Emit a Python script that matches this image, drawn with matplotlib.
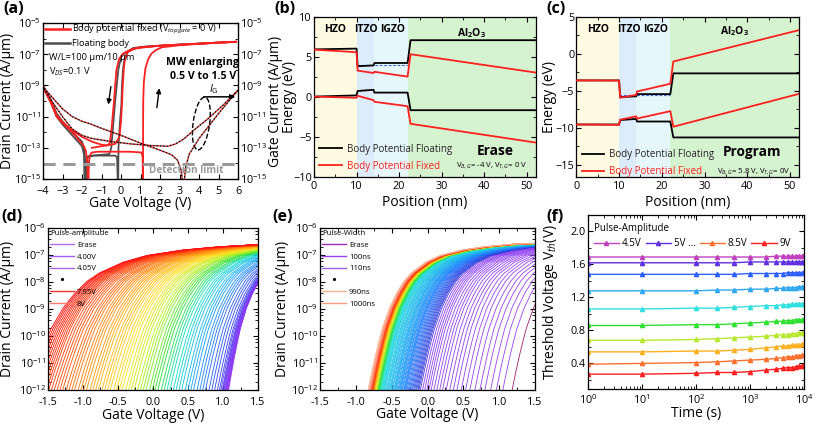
import numpy as np
import matplotlib.pyplot as plt
from matplotlib.lines import Line2D
from matplotlib.patches import Ellipse, Rectangle
from matplotlib.colors import LinearSegmentedColormap
from matplotlib.ticker import FixedLocator, NullFormatter, FormatStrFormatter, LogLocator

plt.rcParams['font.family'] = ['Open Sans', 'DejaVu Sans']
plt.rcParams['mathtext.fontset'] = 'custom'
plt.rcParams['mathtext.rm'] = 'Open Sans'
plt.rcParams['mathtext.it'] = 'Open Sans:italic'
plt.rcParams['mathtext.bf'] = 'Open Sans:bold'

RED = '#ff2020'
GRAY = '#4d4d4d'
TICK_FS = 7.8
LAB_FS = 10

# ---------------- (a) transfer + gate current, log10 of |I| ----------------
fix_fwd_v = [-4, -3.6, -3.3, -3.0, -2.5, -2.0, -1.5, -1.0, -0.7, -0.58, -0.5, -0.43, -0.37,
             -0.3, -0.24, -0.1, 0.1, 0.5, 0.95, 2.0, 3.0, 4.0, 5.0, 5.9]
fix_fwd_log = [-9.1, -10.0, -10.9, -11.35, -11.9, -12.3, -12.6, -12.8, -12.85, -12.7, -12.0,
               -11.0, -10.16, -9.0, -8.03, -7.3, -6.96, -6.7, -6.55, -6.45, -6.38, -6.32,
               -6.25, -6.2]
fix2_v = [5.9, 4.0, 2.0, 1.0, 0.7, 0.35, 0.2, 0.14, 0.09, 0.05, 0.0, -0.08, -0.3, -1.0, -1.5]
fix2_log = [-6.2, -6.32, -6.45, -6.58, -6.64, -6.85, -7.3, -8.0, -9.0, -10.2, -11.3, -12.3,
            -12.75, -12.9, -13.0]
fix_rev_v = [5.9, 5.0, 4.0, 3.0, 2.1, 1.8, 1.56, 1.4, 1.25, 1.17, 1.14, 1.13, 1.125,
             1.11, 1.05, 0.5, -0.5, -1.2, -1.5, -1.6, -1.65, -1.68, -1.72, -1.8, -1.9, -2.1,
             -2.5, -3.0, -3.3, -3.6, -4.0]
fix_rev_log = [-6.2, -6.26, -6.33, -6.42, -6.55, -6.72, -6.96, -7.3, -7.9, -8.8, -10.0,
               -12.0, -16, -13.6, -13.3, -13.25, -13.25, -13.25, -13.3, -13.5, -14.0, -16,
               -14.0, -13.2, -12.9, -12.6, -12.0, -11.4, -11.0, -10.1, -9.1]
flt_fwd_v = [-4, -3.6, -3.3, -3.0, -2.5, -2.0, -1.9, -1.85, -1.82, -1.78, -1.7, -1.5, -1.0,
             -0.6, -0.5, -0.4, -0.3, -0.22, -0.14, 0.0, 0.2, 0.6, 1.2, 2.0, 3.0, 4.0, 5.0, 5.9]
flt_fwd_log = [-9.0, -9.9, -10.8, -11.3, -12.0, -12.6, -13.0, -13.6, -16, -13.8, -13.55, -13.5,
               -13.45, -13.4, -13.0, -11.5, -10.0, -9.0, -8.0, -7.2, -6.9, -6.65, -6.52, -6.45,
               -6.38, -6.32, -6.25, -6.2]
flt_rev_v = [5.9, 5.0, 4.0, 3.0, 2.0, 1.2, 0.62, 0.3, 0.15, 0.1, 0.05, 0.02, -0.05, -0.1,
             -0.13, -0.15, -0.2, -0.3, -0.8, -1.4, -1.7, -1.78, -1.86, -1.9, -2.0, -2.5, -3.0,
             -3.3, -3.6, -4.0]
flt_rev_log = [-6.2, -6.25, -6.32, -6.38, -6.45, -6.52, -6.6, -6.9, -7.5, -8.0, -9.0, -10.2,
               -11.3, -12.3, -13.0, -16, -13.6, -13.5, -13.5, -13.5, -13.6, -14.0, -16, -13.4,
               -12.9, -12.2, -11.5, -11.0, -10.1, -9.0]
ig_up_v = [-4, -3.5, -3.0, -2.5, -2.0, -1.5, -0.5, 0.5, 1.5, 2.4, 2.8, 3.2, 3.8, 4.4, 5.2, 6.0]
ig_up_log = [-9.1, -10.1, -11.0, -11.8, -12.2, -12.4, -12.6, -12.75, -12.85, -12.9, -12.75,
             -12.45, -11.8, -11.2, -10.3, -9.3]
ig_lo_v = [-4, -3.5, -3.0, -2.5, -2.0, -1.6, -1.0, 0.0, 1.0, 2.0, 2.6, 2.9, 3.1, 3.2, 3.3,
           3.5, 4.0, 5.0, 6.0]
ig_lo_log = [-9.1, -9.8, -10.5, -11.0, -11.3, -11.45, -11.75, -12.2, -12.7, -13.15, -13.45,
             -13.8, -14.5, -16, -14.3, -13.4, -12.4, -10.8, -9.3]
detect_log = -14.05

# ---------------- (b), (c) band diagrams ----------------
band_x = [0, 10, 10.25, 14, 14.2, 22, 22.7, 52.2]
layer_edges = [0, 10, 14, 22, 52.2]
layer_colors = ['#fffbe2', '#dcecfa', '#e6f7fc', '#d6f3d0']

b_flt_cb = [5.95, 6.05, 3.85, 3.95, 4.25, 4.25, 7.1, 7.1]
b_flt_vb = [0.05, 0.2, 0.75, 0.9, 0.55, 0.55, -1.65, -1.65]
b_fix_cb = [5.92, 5.6, 3.3, 3.0, 3.15, 2.55, 5.35, 3.05]
b_fix_vb = [0.05, -0.1, 0.15, -0.4, -0.6, -1.15, -3.35, -5.7]
b_fermi = 4.0

c_flt_cb = [-3.6, -3.6, -5.85, -5.75, -5.45, -5.45, -2.65, -2.65]
c_flt_vb = [-9.55, -9.55, -8.95, -8.8, -9.15, -9.15, -11.3, -11.3]
c_fix_cb = [-3.6, -3.62, -5.95, -5.55, -5.1, -4.05, -1.05, 3.2]
c_fix_vb = [-9.55, -9.6, -8.9, -8.45, -8.75, -7.75, -9.85, -5.4]
c_fermi = -5.6

# ---------------- (d), (e) transfer families ----------------
# reference sub-threshold shape: log10(I) against gate overdrive
od_base = [-0.2, 0.0, 0.05, 0.1, 0.15, 0.2, 0.3, 0.4, 0.5, 0.6, 0.8, 1.0, 1.3, 1.6, 2.0,
           2.5, 3.0, 3.5, 4.5]
logi_base = [-14.0, -12.0, -11.35, -10.75, -10.2, -9.7, -8.95, -8.4, -7.97, -7.67, -7.27,
             -7.02, -6.82, -6.7, -6.6, -6.55, -6.52, -6.5, -6.48]

# onset voltage (I = 1 pA) of every curve, Erase then 4.00 V ... 8.00 V
vt_d = [1.08,
        1.07, 1.065, 1.06, 1.05, 1.045, 1.04, 1.03, 1.02, 1.01, 1.00, 0.99, 0.97, 0.95, 0.92,
        0.88, 0.84, 0.80, 0.75, 0.71, 0.67, 0.63, 0.58, 0.54, 0.50,
        0.46, 0.41, 0.37, 0.33, 0.29, 0.24, 0.20, 0.16, 0.12, 0.07,
        0.03, -0.01, -0.05, -0.10, -0.14, -0.18, -0.22, -0.27, -0.31, -0.35,
        -0.39, -0.44, -0.48, -0.52, -0.56, -0.61, -0.65, -0.69, -0.73, -0.78,
        -0.82, -0.86, -0.90, -0.95, -0.99, -1.03, -1.07, -1.12, -1.16, -1.20,
        -1.24, -1.29, -1.33, -1.37, -1.41, -1.45,
        -1.49, -1.52, -1.55, -1.58, -1.61, -1.64, -1.67, -1.70, -1.73, -1.76, -1.79]
ss_d = [0.85,
        0.88, 0.90, 0.90, 0.92, 0.92, 0.93, 0.94, 0.95, 0.95, 0.96, 0.97, 0.98, 0.99, 1.00,
        1.01, 1.02, 1.03, 1.04, 1.05, 1.06, 1.07, 1.08, 1.09, 1.10,
        1.11, 1.12, 1.13, 1.14, 1.15, 1.16, 1.17, 1.18, 1.19, 1.20,
        1.21, 1.22, 1.23, 1.24, 1.25, 1.26, 1.27, 1.28, 1.29, 1.30,
        1.31, 1.32, 1.33, 1.34, 1.35, 1.36, 1.37, 1.38, 1.39, 1.40,
        1.41, 1.42, 1.43, 1.44, 1.45, 1.46, 1.47, 1.48, 1.49, 1.50,
        1.51, 1.52, 1.53, 1.54, 1.55, 1.56,
        1.57, 1.58, 1.59, 1.60, 1.61, 1.62, 1.64, 1.65, 1.66, 1.68, 1.70]

# Erase then 100 ns ... 1000 ns
vt_e = [1.18,
        1.05, 0.96, 0.88, 0.80, 0.73, 0.66, 0.59, 0.53, 0.47, 0.41, 0.36,
        0.31, 0.26, 0.21, 0.17, 0.13, 0.09, 0.05, 0.02, -0.01, -0.04, -0.07,
        -0.10, -0.12, -0.135, -0.15, -0.165, -0.18, -0.195, -0.21, -0.225, -0.24,
        -0.255, -0.27, -0.285, -0.30, -0.31,
        -0.32, -0.33, -0.345, -0.355, -0.37, -0.38, -0.39, -0.40, -0.415, -0.425,
        -0.44, -0.45, -0.46, -0.47, -0.485, -0.495, -0.51, -0.52, -0.53, -0.545,
        -0.555, -0.565, -0.575, -0.59, -0.60,
        -0.61, -0.617, -0.625, -0.632, -0.64, -0.647, -0.655, -0.662, -0.67, -0.677,
        -0.684, -0.69, -0.698, -0.705, -0.712, -0.72, -0.727, -0.734, -0.742, -0.75,
        -0.757, -0.764, -0.77,
        -0.78, -0.79, -0.80, -0.81, -0.82, -0.83]

# ---------------- (f) retention ----------------
ret_t = [1, 10, 100, 250, 500, 1000, 2000, 3000, 4000, 5000, 6000, 7000, 8000, 9000, 10000]
ret_vth = [
    [1.69, 1.69, 1.69, 1.69, 1.69, 1.69, 1.69, 1.70, 1.70, 1.70, 1.70, 1.70, 1.70, 1.70, 1.71],
    [1.62, 1.62, 1.62, 1.62, 1.62, 1.63, 1.63, 1.63, 1.63, 1.63, 1.63, 1.63, 1.63, 1.63, 1.635],
    [1.48, 1.48, 1.48, 1.48, 1.48, 1.49, 1.49, 1.49, 1.49, 1.50, 1.50, 1.50, 1.50, 1.50, 1.505],
    [1.28, 1.28, 1.28, 1.29, 1.29, 1.30, 1.30, 1.31, 1.31, 1.32, 1.32, 1.32, 1.33, 1.33, 1.33],
    [1.06, 1.06, 1.07, 1.07, 1.08, 1.09, 1.10, 1.10, 1.11, 1.11, 1.12, 1.12, 1.12, 1.12, 1.12],
    [0.86, 0.86, 0.87, 0.87, 0.88, 0.89, 0.90, 0.91, 0.91, 0.92, 0.92, 0.93, 0.93, 0.93, 0.94],
    [0.68, 0.68, 0.69, 0.70, 0.71, 0.72, 0.73, 0.74, 0.75, 0.75, 0.76, 0.76, 0.77, 0.77, 0.77],
    [0.54, 0.54, 0.55, 0.55, 0.56, 0.57, 0.59, 0.60, 0.61, 0.61, 0.62, 0.62, 0.62, 0.63, 0.63],
    [0.39, 0.40, 0.41, 0.42, 0.43, 0.44, 0.45, 0.46, 0.47, 0.48, 0.48, 0.49, 0.49, 0.50, 0.50],
    [0.27, 0.27, 0.28, 0.29, 0.29, 0.30, 0.32, 0.33, 0.34, 0.35, 0.35, 0.36, 0.37, 0.37, 0.38],
]
ret_colors = ['#c040c0', '#6030e0', '#3060ff', '#30a8f0', '#30e0e0', '#30e030', '#b8e830',
              '#ffb020', '#ff7030', '#ff2020']
ret_labels = ['4.5V', '5V ...', '8.5V', '9V']


def style(ax, xpad=3.2):
    ax.tick_params(which='both', direction='in', top=True, right=True, labelsize=TICK_FS,
                   pad=1.5)
    ax.tick_params(axis='x', which='major', pad=xpad)
    ax.tick_params(which='major', length=3.5, width=0.8)
    ax.tick_params(which='minor', length=2, width=0.6)
    for s in ax.spines.values():
        s.set_linewidth(0.9)


def labels(ax, xl, yl, xy, yx):
    ax.set_xlabel(xl, fontsize=LAB_FS)
    ax.set_ylabel(yl, fontsize=LAB_FS)
    ax.xaxis.set_label_coords(0.5, xy)
    ax.yaxis.set_label_coords(yx, 0.5)


def decade_axis(ax, lo, hi, step):
    ax.set_yscale('log')
    ax.set_ylim(10.0 ** lo, 10.0 ** hi)
    ax.yaxis.set_major_locator(FixedLocator([10.0 ** k for k in range(lo, hi + 1, step)]))
    if step > 1:
        ax.yaxis.set_minor_locator(FixedLocator([10.0 ** k for k in range(lo + 1, hi, step)]))
    else:
        ax.yaxis.set_minor_locator(LogLocator(base=10, subs=[2, 4, 6, 8]))
    ax.yaxis.set_minor_formatter(NullFormatter())


fig = plt.figure(figsize=(8.16, 4.26), dpi=100)

# ======================= (a) =======================
ax = fig.add_axes([0.0527, 0.5798, 0.239, 0.366])
pw = lambda v: 10.0 ** np.asarray(v)
ax.plot(flt_fwd_v, pw(flt_fwd_log), color=GRAY, lw=1.3)
ax.plot(flt_rev_v, pw(flt_rev_log), color=GRAY, lw=1.3)
ax.plot(fix_fwd_v, pw(fix_fwd_log), color=RED, lw=1.3)
ax.plot(fix2_v, pw(fix2_log), color=RED, lw=1.3)
ax.plot(fix_rev_v, pw(fix_rev_log), color=RED, lw=1.3)
for v, lg in [(ig_up_v, ig_up_log), (ig_lo_v, ig_lo_log)]:
    ax.plot(v, pw(lg), color=RED, lw=1.0, linestyle=(0, (1.2, 1.2)))
    ax.plot(v, pw(lg), color='black', lw=1.0, linestyle=(1.2, (1.2, 1.2)))
ax.axhline(10.0 ** detect_log, color='#9a9a9a', lw=2.2, dashes=(4, 2.5))
ax.text(3.37, 10.0 ** -14.45, 'Detection limit', color='#9a9a9a', fontsize=7.1, ha='center',
        va='center', fontweight='bold')
ax.set_xlim(-4, 6)
ax.set_xticks(range(-4, 7))
decade_axis(ax, -15, -5, 2)
style(ax, xpad=4.8)
ax.tick_params(right=False)
labels(ax, 'Gate Voltage (V)', 'Drain Current (A/μm)', -0.11, -0.145)
axr = ax.twinx()
decade_axis(axr, -15, -5, 2)
axr.tick_params(which='both', direction='in', labelsize=TICK_FS, pad=1.5)
axr.tick_params(which='major', length=3.5)
axr.tick_params(which='minor', length=2)
axr.set_ylabel('Gate Current (A/μm)', fontsize=LAB_FS)
axr.yaxis.set_label_coords(1.152, 0.5)
h = [Line2D([], [], color=RED, lw=1.8), Line2D([], [], color=GRAY, lw=1.8)]
ax.legend(h, ['Body potential fixed (V$_{topgate}$ = 0 V)', 'Floating body'], loc='center left',
          bbox_to_anchor=(0.0, 0.92), fontsize=6.6, frameon=False, handlelength=2.7,
          handletextpad=0.25, labelspacing=0.3, borderaxespad=0.0, borderpad=0.2)
ax.text(0.03, 0.78, 'W/L=100 μm/10 μm', transform=ax.transAxes, fontsize=6.7, va='center')
ax.text(0.03, 0.69, 'V$_{DS}$=0.1 V', transform=ax.transAxes, fontsize=6.7, va='center')
ax.text(4.2, 10.0 ** -7.55, 'MW enlarging', fontsize=7.6, fontweight='bold', ha='center',
        va='center')
ax.text(4.2, 10.0 ** -8.45, '0.5 V to 1.5 V', fontsize=7.6, fontweight='bold', ha='center',
        va='center')
ax.annotate('', xy=(-0.67, 10.0 ** -10.4), xytext=(-0.5, 10.0 ** -8.9),
            arrowprops=dict(arrowstyle='-|>', lw=1.0, color='k', mutation_scale=7))
ax.annotate('', xy=(1.98, 10.0 ** -9.0), xytext=(1.82, 10.0 ** -10.6),
            arrowprops=dict(arrowstyle='-|>', lw=1.0, color='k', mutation_scale=7))
ax.annotate('', xy=(6.0, 10.0 ** -9.73), xytext=(4.1, 10.0 ** -9.73),
            arrowprops=dict(arrowstyle='-|>', lw=1.1, color='k', mutation_scale=7))
ax.text(4.5, 10.0 ** -9.25, '$\\mathit{I}_\\mathrm{G}$', fontsize=7.5, ha='left', va='center')
ax.add_patch(Ellipse((0.812, 0.356), 0.085, 0.34, angle=-6, transform=ax.transAxes,
                     fill=False, ls='--', lw=1.0, ec='black'))


# ======================= (b), (c) =======================
def band_panel(rect, flt_cb, flt_vb, fix_cb, fix_vb, fermi, ylim, yticks, lab_y, al_y, mode,
               mode_xy, bias, bias_xy, leg_y, xlab_y, ylab_x):
    ax = fig.add_axes(rect)
    for k in range(4):
        ax.add_patch(Rectangle((layer_edges[k], ylim[0]), layer_edges[k + 1] - layer_edges[k],
                               ylim[1] - ylim[0], color=layer_colors[k], lw=0, zorder=0))
    ax.plot([10, 22], [fermi, fermi], color='#4a66d8', lw=0.8, dashes=(2.5, 1.5), zorder=2)
    ax.plot(band_x, flt_cb, color='black', lw=1.3, zorder=3)
    ax.plot(band_x, flt_vb, color='black', lw=1.3, zorder=3)
    ax.plot(band_x, fix_cb, color=RED, lw=1.3, zorder=4)
    ax.plot(band_x, fix_vb, color=RED, lw=1.3, zorder=4)
    ax.set_xlim(0, 52.2)
    ax.set_ylim(*ylim)
    ax.set_xticks(range(0, 51, 10))
    ax.set_yticks(yticks)
    ax.xaxis.set_minor_locator(FixedLocator(range(5, 52, 10)))
    ax.yaxis.set_minor_locator(FixedLocator([y + 2.5 for y in yticks[:-1]]))
    style(ax)
    labels(ax, 'Position (nm)', 'Energy (eV)', xlab_y, ylab_x)
    for xx, name in [(5, 'HZO'), (12.2, 'ITZO'), (18.6, 'IGZO')]:
        ax.text(xx, lab_y, name, fontsize=7.5, fontweight='bold', ha='center', va='center')
    ax.text(37, al_y, 'Al$_\\mathbf{2}$O$_\\mathbf{3}$', fontsize=7.5, fontweight='bold',
            ha='center', va='center')
    h = [Line2D([], [], color='black', lw=1.3), Line2D([], [], color=RED, lw=1.3)]
    lg = ax.legend(h, ['Body Potential Floating', 'Body Potential Fixed'], loc='center left',
                   bbox_to_anchor=(0.02, leg_y), fontsize=7, frameon=False, handlelength=2.3,
                   handletextpad=0.5, labelspacing=0.6, borderaxespad=0.0, borderpad=0.1)
    lg.get_texts()[0].set_color('#222222')
    lg.get_texts()[1].set_color(RED)
    ax.text(mode_xy[0], mode_xy[1], mode, fontsize=9.8, fontweight='bold', ha='center',
            va='center')
    ax.text(bias_xy[0], bias_xy[1], bias, fontsize=5.6, ha='center', va='center')
    return ax


band_panel([0.3848, 0.5845, 0.2721, 0.3756], b_flt_cb, b_flt_vb, b_fix_cb, b_fix_vb, b_fermi,
           (-10, 10), [-10, -5, 0, 5, 10], 8.4, 8.0, 'Erase', (42.5, -6.8),
           'V$_{B,G}$= -4 V, V$_{T,G}$= 0 V', (41.8, -8.6), 0.12, -0.11, -0.075)
band_panel([0.7063, 0.5852, 0.2733, 0.3756], c_flt_cb, c_flt_vb, c_fix_cb, c_fix_vb, c_fermi,
           (-16.6, 5), [-15, -10, -5, 0, 5], 3.3, 3.0, 'Program', (41, -13.3),
           'V$_{B,G}$= 5.8 V, V$_{T,G}$= 0V', (41.5, -15.9), 0.085, -0.115, -0.085)

# ======================= (d), (e) =======================
cmap_d = LinearSegmentedColormap.from_list('d', [
    (0.0, '#9a3cf5'), (0.1, '#7a3cf5'), (0.18, '#3a50f5'), (0.28, '#20a8f8'),
    (0.36, '#20dcd0'), (0.42, '#30e040'), (0.5, '#b8f020'), (0.58, '#ffe020'),
    (0.7, '#ffa010'), (0.84, '#ff5010'), (1.0, '#ff1010')])
cmap_e = LinearSegmentedColormap.from_list('e', [
    (0.0, '#9a44f0'), (0.235, '#8a40f0'), (0.245, '#3434d8'), (0.4, '#2080ff'),
    (0.55, '#20b0f0'), (0.74, '#30e0e0'), (0.8, '#20e040'), (0.86, '#e0f020'),
    (0.9, '#ff9000'), (0.94, '#ff2000'), (0.97, '#ff8060'), (1.0, '#ffb090')])


def transfer_panel(rect, xlab_y, ylab_x):
    ax = fig.add_axes(rect)
    ax.set_xlim(-1.5, 1.5)
    ax.set_xticks(np.arange(-1.5, 1.51, 0.5))
    ax.xaxis.set_major_formatter(FormatStrFormatter('%.1f'))
    ax.xaxis.set_minor_locator(FixedLocator(np.arange(-1.25, 1.5, 0.5)))
    decade_axis(ax, -12, -6, 1)
    style(ax, xpad=4.8)
    labels(ax, 'Gate Voltage (V)', 'Drain Current (A/μm)', xlab_y, ylab_x)
    return ax


def pulse_legend(ax, handles, names, title):
    ax.legend(handles, names, title=title, title_fontsize=5.6, fontsize=5.6, loc='upper left',
              bbox_to_anchor=(0.0, 1.0), frameon=False, alignment='left', handlelength=3.0,
              handletextpad=0.4, labelspacing=0.55, borderaxespad=0.15, borderpad=0.15)


od = np.asarray(od_base)
cur = 10.0 ** np.asarray(logi_base)

ax = transfer_panel([0.0588, 0.0845, 0.2574, 0.3803], -0.11, -0.155)
n = len(vt_d)
for i in range(n):
    ax.plot(vt_d[i] + ss_d[i] * od, cur, color=cmap_d(i / (n - 1)), lw=0.65)
h = [Line2D([], [], color='#b070f0', lw=1), Line2D([], [], color='#a060f0', lw=1),
     Line2D([], [], color='#a868f0', lw=1),
     Line2D([], [], ls='none', marker='.', color='k', ms=2.5),
     Line2D([], [], color='#ff3030', lw=1), Line2D([], [], color='#ff7a6a', lw=1)]
pulse_legend(ax, h, ['Erase', '4.00V', '4.05V', ' ', '7.95V', '8V'], 'Pulse-amplitude')

ax = transfer_panel([0.3922, 0.0845, 0.2635, 0.3803], -0.105, -0.142)
n = len(vt_e)
for i in range(n):
    col = '#a0206a' if i == 0 else cmap_e((i - 1) / (n - 2))
    ax.plot(vt_e[i] + od, cur, color=col, lw=0.6)
h = [Line2D([], [], color='#a030c0', lw=1), Line2D([], [], color='#9a44f0', lw=1),
     Line2D([], [], color='#9a60f0', lw=1),
     Line2D([], [], ls='none', marker='.', color='k', ms=2.5),
     Line2D([], [], color='#ffb090', lw=1), Line2D([], [], color='#ff9a80', lw=1)]
pulse_legend(ax, h, ['Erase', '100ns', '110ns', ' ', '990ns', '1000ns'], 'Pulse-Width')

# ======================= (f) =======================
ax = fig.add_axes([0.7206, 0.0869, 0.2647, 0.4085])
lines = []
for vals, col in zip(ret_vth, ret_colors):
    ln, = ax.plot(ret_t, vals, color=col, lw=1.0, marker='^', ms=3.0)
    lines.append(ln)
ax.set_xscale('log')
ax.set_xlim(1, 1e4)
ax.set_ylim(0.09, 2.2)
ax.set_yticks([0.4, 0.8, 1.2, 1.6, 2.0])
ax.yaxis.set_major_formatter(FormatStrFormatter('%.1f'))
ax.yaxis.set_minor_locator(FixedLocator([0.2, 0.6, 1.0, 1.4, 1.8, 2.2]))
style(ax)
labels(ax, 'Time (s)', 'Threshold Voltage V$_{th}$(V)', -0.098, -0.13)
ax.legend([lines[0], lines[1], lines[8], lines[9]], ret_labels, title='Pulse-Amplitude',
          title_fontsize=7, fontsize=7, loc='upper left', ncol=4, frameon=False,
          alignment='left', handlelength=2.6, handletextpad=0.3, columnspacing=0.4,
          borderaxespad=0.2, bbox_to_anchor=(0.0, 0.99))

# panel letters
for x, y, s in [(0.004, 0.997, '(a)'), (0.336, 0.997, '(b)'), (0.669, 0.997, '(c)'),
                (0.002, 0.51, '(d)'), (0.334, 0.51, '(e)'), (0.669, 0.51, '(f)')]:
    fig.text(x, y, s, fontsize=11.5, fontweight='bold', va='top', ha='left')

fig.savefig('out.png', dpi=100)
